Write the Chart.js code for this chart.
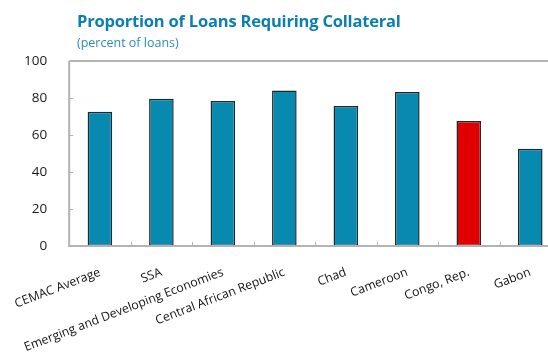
<!DOCTYPE html>
<html>
<head>
<meta charset="utf-8">
<script src="https://cdn.jsdelivr.net/npm/chart.js@4"></script>
<style>
  html, body { margin: 0; padding: 0; background: #fff; overflow: hidden; }
  #wrap { position: relative; width: 548px; height: 356px; overflow: hidden; }
  #chart { position: absolute; left: 0; top: 0; }
  .title { position: absolute; left: 77px; top: 9px; font: bold 16.5px "Open Sans", sans-serif; color: #0b7fae; letter-spacing: -0.2px; white-space: nowrap; }
  .sub { position: absolute; left: 77px; top: 34px; font: 12.5px "Open Sans", sans-serif; color: #2b8db6; white-space: nowrap; }
</style>
</head>
<body>
<div id="wrap">
  <canvas id="chart" width="562" height="356" style="width:562px;height:356px"></canvas>
  <div class="title">Proportion of Loans Requiring Collateral</div>
  <div class="sub">(percent of loans)</div>
</div>
<script>
const categories = ["CEMAC Average", "SSA", "Emerging and Developing Economies", "Central African Republic", "Chad", "Cameroon", "Congo, Rep.", "Gabon"]
const collateralShare = [72.6, 79.6, 78.4, 84.0, 75.7, 83.3, 67.6, 52.6]
const highlighted = "Congo, Rep."
const yTicks = [0, 20, 40, 60, 80, 100]

const teal = "#0789b0"
const red = "#e00000"
const axisGrey = "#b3b3b3"

// frame around the plot plus short inward tick marks
const framePlugin = {
  id: "frame",
  afterDatasetsDraw(chart) {
    const { ctx, chartArea: a, scales } = chart
    ctx.save()
    ctx.strokeStyle = axisGrey
    ctx.lineWidth = 2
    ctx.beginPath()
    ctx.moveTo(a.left, a.top)
    ctx.lineTo(a.right, a.top)
    ctx.moveTo(a.left, a.top)
    ctx.lineTo(a.left, a.bottom)
    ctx.moveTo(a.left - 1, a.bottom)
    ctx.lineTo(a.right, a.bottom)
    ctx.stroke()
    ctx.lineWidth = 1
    ctx.beginPath()
    yTicks.forEach(v => {
      const y = Math.round(scales.y.getPixelForValue(v)) + 0.5
      ctx.moveTo(a.left, y)
      ctx.lineTo(a.left + 4, y)
    })
    for (let i = 0; i < categories.length - 1; i++) {
      const x = Math.round((scales.x.getPixelForValue(i) + scales.x.getPixelForValue(i + 1)) / 2) + 0.5
      ctx.moveTo(x, a.bottom)
      ctx.lineTo(x, a.bottom - 4)
    }
    ctx.stroke()
    ctx.restore()
  }
}

new Chart(document.getElementById("chart"), {
  type: "bar",
  data: {
    labels: categories,
    datasets: [{
      data: collateralShare,
      backgroundColor: categories.map(c => c === highlighted ? red : teal),
      borderColor: "#1c2b30",
      borderWidth: 1.5,
      borderSkipped: false,
      categoryPercentage: 1,
      barPercentage: 0.4
    }]
  },
  options: {
    responsive: false,
    animation: false,
    layout: { padding: { top: 61, left: 0, right: 1, bottom: 0 } },
    plugins: { legend: { display: false }, tooltip: { enabled: false } },
    scales: {
      x: {
        grid: { display: false },
        border: { display: false },
        afterFit: s => { s.height = 110 },
        ticks: {
          autoSkip: false,
          maxRotation: 21,
          minRotation: 21,
          padding: 11,
          color: "#111",
          font: { family: "Open Sans", size: 12.3 }
        }
      },
      y: {
        min: 0,
        max: 100,
        afterFit: s => { s.width = 69 },
        afterBuildTicks: s => { s.ticks = yTicks.map(v => ({ value: v })) },
        grid: { display: false },
        border: { display: false },
        ticks: {
          padding: 14,
          color: "#1a1a1a",
          font: { family: "Open Sans", size: 13.5 }
        }
      }
    }
  },
  plugins: [framePlugin]
})
</script>
</body>
</html>
